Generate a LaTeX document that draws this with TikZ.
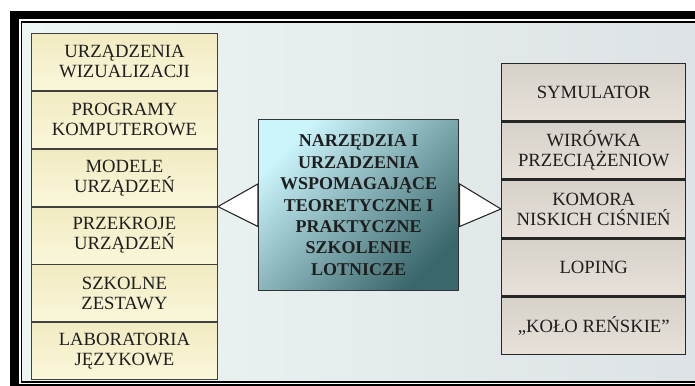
\documentclass[tikz,border=0pt]{standalone}
\usepackage{fontspec}
\setmainfont{Liberation Serif}
\usetikzlibrary{positioning}

\definecolor{bgleft}{HTML}{EEF6F5}
\definecolor{bgright}{HTML}{DCE2E5}
\definecolor{ltop}{HTML}{F1EBC2}
\definecolor{lbot}{HTML}{FAF7DA}
\definecolor{rtop}{HTML}{D6D1C9}
\definecolor{rbot}{HTML}{E7E1D9}
\definecolor{cenlight}{HTML}{CBF4FB}
\definecolor{cendark}{HTML}{3A676B}
\definecolor{ink}{HTML}{1E1E1E}

\tikzset{
    lbox/.style={draw=black!75, line width=0.7pt, top color=ltop, bottom color=lbot,
        minimum width=139.5pt, minimum height=42.7pt, inner sep=2pt, align=center,
        text=ink, font=\fontsize{14}{15}\selectfont},
    rbox/.style={draw=black!85, line width=1.1pt, top color=rtop, bottom color=rbot,
        minimum width=138pt, minimum height=42.7pt, inner sep=2pt, align=center,
        text=ink, font=\fontsize{14}{15}\selectfont},
    cbox/.style={draw=black!80, line width=1.1pt, top color=cenlight, bottom color=cendark,
        shading angle=45, minimum width=150pt, minimum height=128.2pt, align=center,
        text=ink, font=\bfseries\fontsize{13.5}{16.1}\selectfont},
    wedge/.style={draw=black!85, line width=0.8pt, fill=white}
}

\begin{document}
\begin{tikzpicture}[x=0.75pt, y=-0.75pt]
    \useasboundingbox (0,0) rectangle (695,385);
    \clip (0,0) rectangle (695,385);
    % frame and slide background
    \fill[black] (10,11) rectangle (720,400);
    \fill[white] (19,19.5) rectangle (720,384);
    \draw[black, line width=1pt, left color=bgleft, right color=bgright] (21.5,22) rectangle (720,382);

    % left column
    \node[lbox, anchor=north west] (l1) at (31,33) {URZĄDZENIA\\WIZUALIZACJI};
    \node[lbox, below=0pt of l1] (l2) {PROGRAMY\\KOMPUTEROWE};
    \node[lbox, below=0pt of l2] (l3) {MODELE\\URZĄDZEŃ};
    \node[lbox, below=0pt of l3] (l4) {PRZEKROJE\\URZĄDZEŃ};
    \node[lbox, below=0pt of l4] (l5) {SZKOLNE\\ZESTAWY};
    \node[lbox, below=0pt of l5] (l6) {LABORATORIA\\JĘZYKOWE};

    % right column
    \node[rbox, anchor=north west] (r1) at (501,63) {SYMULATOR};
    \node[rbox, below=0pt of r1] (r2) {WIRÓWKA\\PRZECIĄŻENIOW};
    \node[rbox, below=0pt of r2] (r3) {KOMORA\\NISKICH CIŚNIEŃ};
    \node[rbox, below=0pt of r3] (r4) {LOPING};
    \node[rbox, below=0pt of r4] (r5) {„KOŁO REŃSKIE”};

    % centre
    \node[cbox, anchor=north west] (cen) at (258,119)
        {NARZĘDZIA I\\URZADZENIA\\WSPOMAGAJĄCE\\TEORETYCZNE I\\PRAKTYCZNE\\SZKOLENIE\\LOTNICZE};

    % wedges to both columns
    \draw[wedge] (l3.south east) -- ([yshift=16pt]cen.west) -- ([yshift=-16pt]cen.west) -- cycle;
    \draw[wedge] (r3.west) -- ([yshift=16pt]cen.east) -- ([yshift=-16pt]cen.east) -- cycle;
\end{tikzpicture}
\end{document}
